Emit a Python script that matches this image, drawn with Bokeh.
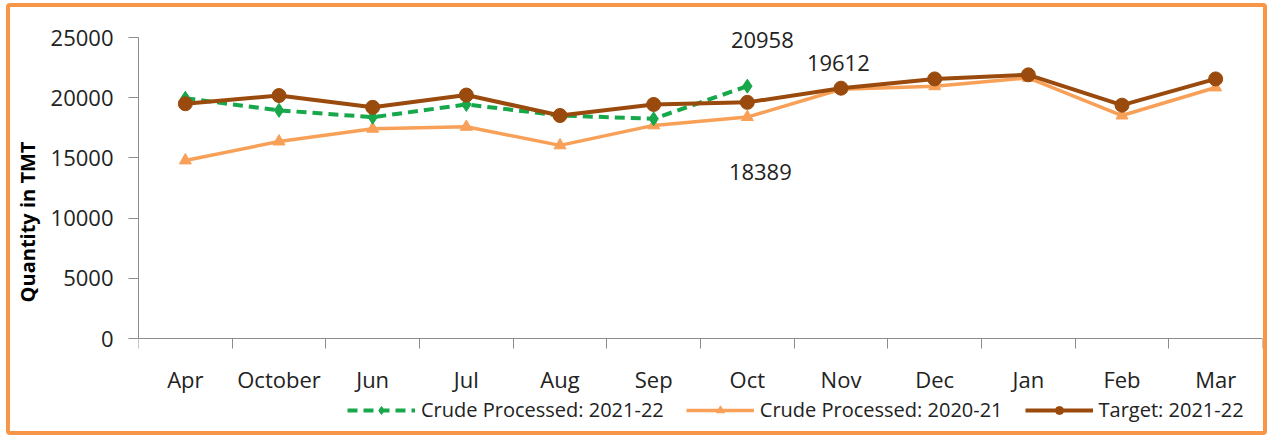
from bokeh.plotting import figure
from bokeh.models import Range1d, FixedTicker, Legend, LegendItem, ColumnDataSource, LabelSet
from bokeh.core.properties import value
from bokeh.embed import file_html
from bokeh.resources import INLINE

months = ["Apr", "October", "Jun", "Jul", "Aug", "Sep", "Oct", "Nov", "Dec", "Jan", "Feb", "Mar"]
crude_2122 = [19950, 18950, 18380, 19440, 18520, 18250, 20958]
crude_2021 = [14790, 16360, 17420, 17580, 16040, 17700, 18389, 20700, 20950, 21650, 18520, 20850]
target_2122 = [19500, 20180, 19200, 20220, 18520, 19440, 19612, 20790, 21560, 21900, 19380, 21560]
y_ticks = [0, 5000, 10000, 15000, 20000, 25000]
series_names = ["Crude Processed: 2021-22", "Crude Processed: 2020-21", "Target: 2021-22"]

GREEN = "#17A84B"
ORANGE = "#F8A057"
BROWN = "#994A0C"
BORDER = "#F79646"
AXIS = "#8C8C8C"
FONT = "Open Sans"

# layout (canvas pixels)
CW, CH = 1261, 432
MB_L, MB_R, MB_T, MB_B = 128, 9, 5, 8
Y_TOP_PX, Y_ZERO_PX = 30, 331
Y_AXIS_MAX = y_ticks[-1]
ppu = (Y_ZERO_PX - Y_TOP_PX) / Y_AXIS_MAX
y_hi = Y_AXIS_MAX + (Y_TOP_PX - MB_T) / ppu
y_lo = -((CH - MB_B) - Y_ZERO_PX) / ppu

x_pos = [i + 0.5 for i in range(len(months))]
x_edges = list(range(len(months) + 1))

p = figure(width=CW, height=CH, output_backend="svg", toolbar_location=None,
           x_range=Range1d(0, len(months)), y_range=Range1d(y_lo, y_hi),
           min_border_left=MB_L, min_border_top=MB_T, min_border_bottom=MB_B,
           min_border_right=MB_R)
p.styles = {"border": "4px solid " + BORDER, "border-radius": "4px",
            "margin-left": "6px", "margin-top": "3px"}
p.outline_line_color = None
p.xgrid.visible = False
p.ygrid.visible = False
p.background_fill_color = "white"
p.border_fill_color = "white"

xa = p.xaxis[0]
xa.fixed_location = 0
xa.ticker = FixedTicker(ticks=x_pos, minor_ticks=x_edges)
xa.major_label_overrides = {x: m for x, m in zip(x_pos, months)}
xa.major_tick_out = 0
xa.major_tick_in = 0
xa.minor_tick_out = 10
xa.minor_tick_in = 0
xa.minor_tick_line_color = AXIS
xa.axis_line_color = AXIS
xa.major_label_standoff = 15
xa.major_label_text_font = FONT
xa.major_label_text_font_size = "22px"
xa.major_label_text_color = "#222222"

ya = p.yaxis[0]
ya.bounds = (0, Y_AXIS_MAX)
ya.ticker = FixedTicker(ticks=y_ticks)
ya.major_tick_out = 10
ya.major_tick_in = 0
ya.major_tick_line_color = AXIS
ya.axis_line_color = AXIS
ya.major_label_standoff = 15
ya.major_label_text_font = FONT
ya.major_label_text_font_size = "22px"
ya.major_label_text_color = "#222222"
ya.axis_label = "Quantity in TMT"
ya.axis_label_text_font = FONT
ya.axis_label_text_font_size = "20px"
ya.axis_label_text_font_style = "bold"
ya.axis_label_text_color = "black"
ya.axis_label_standoff = 7

n_g = len(crude_2122)
o_line = p.line(x_pos, crude_2021, line_color=ORANGE, line_width=3.5)
o_pts = p.scatter(x_pos, crude_2021, marker="triangle", size=12, color=ORANGE)
g_line = p.line(x_pos[:n_g], crude_2122, line_color=GREEN, line_width=4, line_dash="10 6")
g_pts = p.scatter(x_pos[:n_g], crude_2122, marker="diamond", size=14, color=GREEN)
b_line = p.line(x_pos, target_2122, line_color=BROWN, line_width=4)
b_pts = p.scatter(x_pos, target_2122, marker="circle", size=14, color=BROWN)

idx = n_g - 1
lab_src = ColumnDataSource(dict(
    x=[x_pos[idx]] * 3,
    y=[crude_2122[idx], target_2122[idx], crude_2021[idx]],
    t=[str(crude_2122[idx]), str(target_2122[idx]), str(crude_2021[idx])],
    dx=[15, 91, 13],
    dy=[46, 39, -55],
))
labels = LabelSet(x="x", y="y", text="t", x_offset="dx", y_offset="dy", source=lab_src,
                  text_align="center", text_baseline="middle", text_font=value(FONT),
                  text_font_size="22px", text_color="#222222")
p.add_layout(labels)

legend = Legend(items=[
    LegendItem(label=series_names[0], renderers=[g_line, g_pts]),
    LegendItem(label=series_names[1], renderers=[o_line, o_pts]),
    LegendItem(label=series_names[2], renderers=[b_line, b_pts]),
], orientation="horizontal", location=(209, 8))
legend.border_line_color = None
legend.background_fill_alpha = 0
legend.padding = 0
legend.margin = 0
legend.spacing = 22
legend.glyph_width = 68
legend.label_standoff = 6
legend.label_text_font = FONT
legend.label_text_font_size = "20px"
legend.label_text_color = "#222222"
p.add_layout(legend, "center")

open("out.html", "w").write(file_html(p, INLINE))
